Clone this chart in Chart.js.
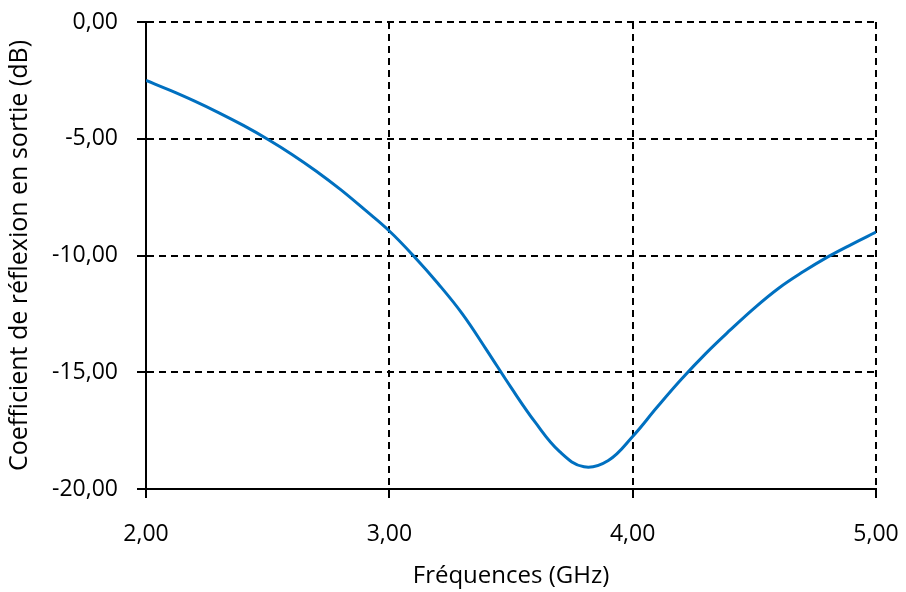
<!DOCTYPE html>
<html>
<head>
<meta charset="utf-8">
<script src="https://cdn.jsdelivr.net/npm/chart.js@4.4.0/dist/chart.umd.min.js"></script>
<style>
  html, body { margin: 0; padding: 0; background: #fff; }
  #wrap { width: 906px; height: 592px; }
</style>
</head>
<body>
<div id="wrap"><canvas id="s22Chart" width="906" height="592"></canvas></div>
<script>
// Frequency (GHz) and output reflection coefficient (dB)
const freqs = [2.0, 2.1, 2.2, 2.3, 2.4, 2.5, 2.6, 2.7, 2.8, 2.9, 3.0,
  3.1, 3.2, 3.3, 3.4, 3.5, 3.6, 3.7, 3.8, 3.9, 4.0,
  4.1, 4.2, 4.3, 4.4, 4.5, 4.6, 4.7, 4.8, 4.9, 5.0];
const s22 = [-2.5, -2.93, -3.39, -3.89, -4.43, -5.02, -5.67, -6.39, -7.18, -8.05, -8.95,
  -10.02, -11.2, -12.5, -14.05, -15.65, -17.15, -18.4, -19.05, -18.78, -17.75,
  -16.5, -15.3, -14.2, -13.2, -12.25, -11.4, -10.7, -10.07, -9.52, -9.0];

const xTicks = [2, 3, 4, 5];
const xTickLabels = ["2,00", "3,00", "4,00", "5,00"];
const yTicks = [-20, -15, -10, -5, 0];
const yTickLabels = ["-20,00", "-15,00", "-10,00", "-5,00", "0,00"];

const fontFamily = "'Open Sans', 'Noto Sans', sans-serif";
const points = freqs.map((f, i) => ({ x: f, y: s22[i] }));

const gridOpts = {
  color: "#000",
  lineWidth: 2,
  tickLength: 9,
  tickColor: "#000",
  tickWidth: 2,
  tickBorderDash: []
};
// in Chart.js v4 border.dash dashes the grid lines, the axis line stays solid
const borderOpts = { display: true, color: "#000", width: 2, dash: [7, 5] };

new Chart(document.getElementById("s22Chart"), {
  type: "line",
  data: {
    datasets: [{
      data: points,
      borderColor: "#0070C0",
      borderWidth: 3,
      pointRadius: 0,
      tension: 0.4,
      fill: false
    }]
  },
  options: {
    responsive: false,
    animation: false,
    layout: { padding: { left: 0, right: 30, top: 22, bottom: 0 } },
    plugins: { legend: { display: false }, tooltip: { enabled: false } },
    scales: {
      x: {
        type: "linear",
        min: 2,
        max: 5,
        afterBuildTicks: (scale) => { scale.ticks = xTicks.map(v => ({ value: v })); },
        afterFit: (scale) => {
          scale.height = 103;
          scale.paddingLeft = 0;
          scale.paddingRight = 0;
        },
        ticks: {
          color: "#000",
          font: { family: fontFamily, size: 23 },
          padding: 23,
          maxRotation: 0,
          callback: (v) => xTickLabels[xTicks.indexOf(v)]
        },
        grid: gridOpts,
        border: borderOpts,
        title: {
          display: true,
          text: "Fréquences (GHz)",
          color: "#000",
          font: { family: fontFamily, size: 24 },
          padding: { top: 0, bottom: 1 }
        }
      },
      y: {
        min: -20,
        max: 0,
        afterBuildTicks: (scale) => { scale.ticks = yTicks.map(v => ({ value: v })); },
        afterFit: (scale) => {
          scale.width = 146;
          scale.paddingTop = 0;
          scale.paddingBottom = 0;
        },
        ticks: {
          color: "#000",
          font: { family: fontFamily, size: 23 },
          padding: 19,
          callback: (v) => yTickLabels[yTicks.indexOf(v)]
        },
        grid: gridOpts,
        border: borderOpts,
        title: {
          display: true,
          text: "Coefficient de réflexion en sortie (dB)",
          color: "#000",
          font: { family: fontFamily, size: 25 },
          padding: { top: 5, bottom: 0 }
        }
      }
    }
  }
});
</script>
</body>
</html>
